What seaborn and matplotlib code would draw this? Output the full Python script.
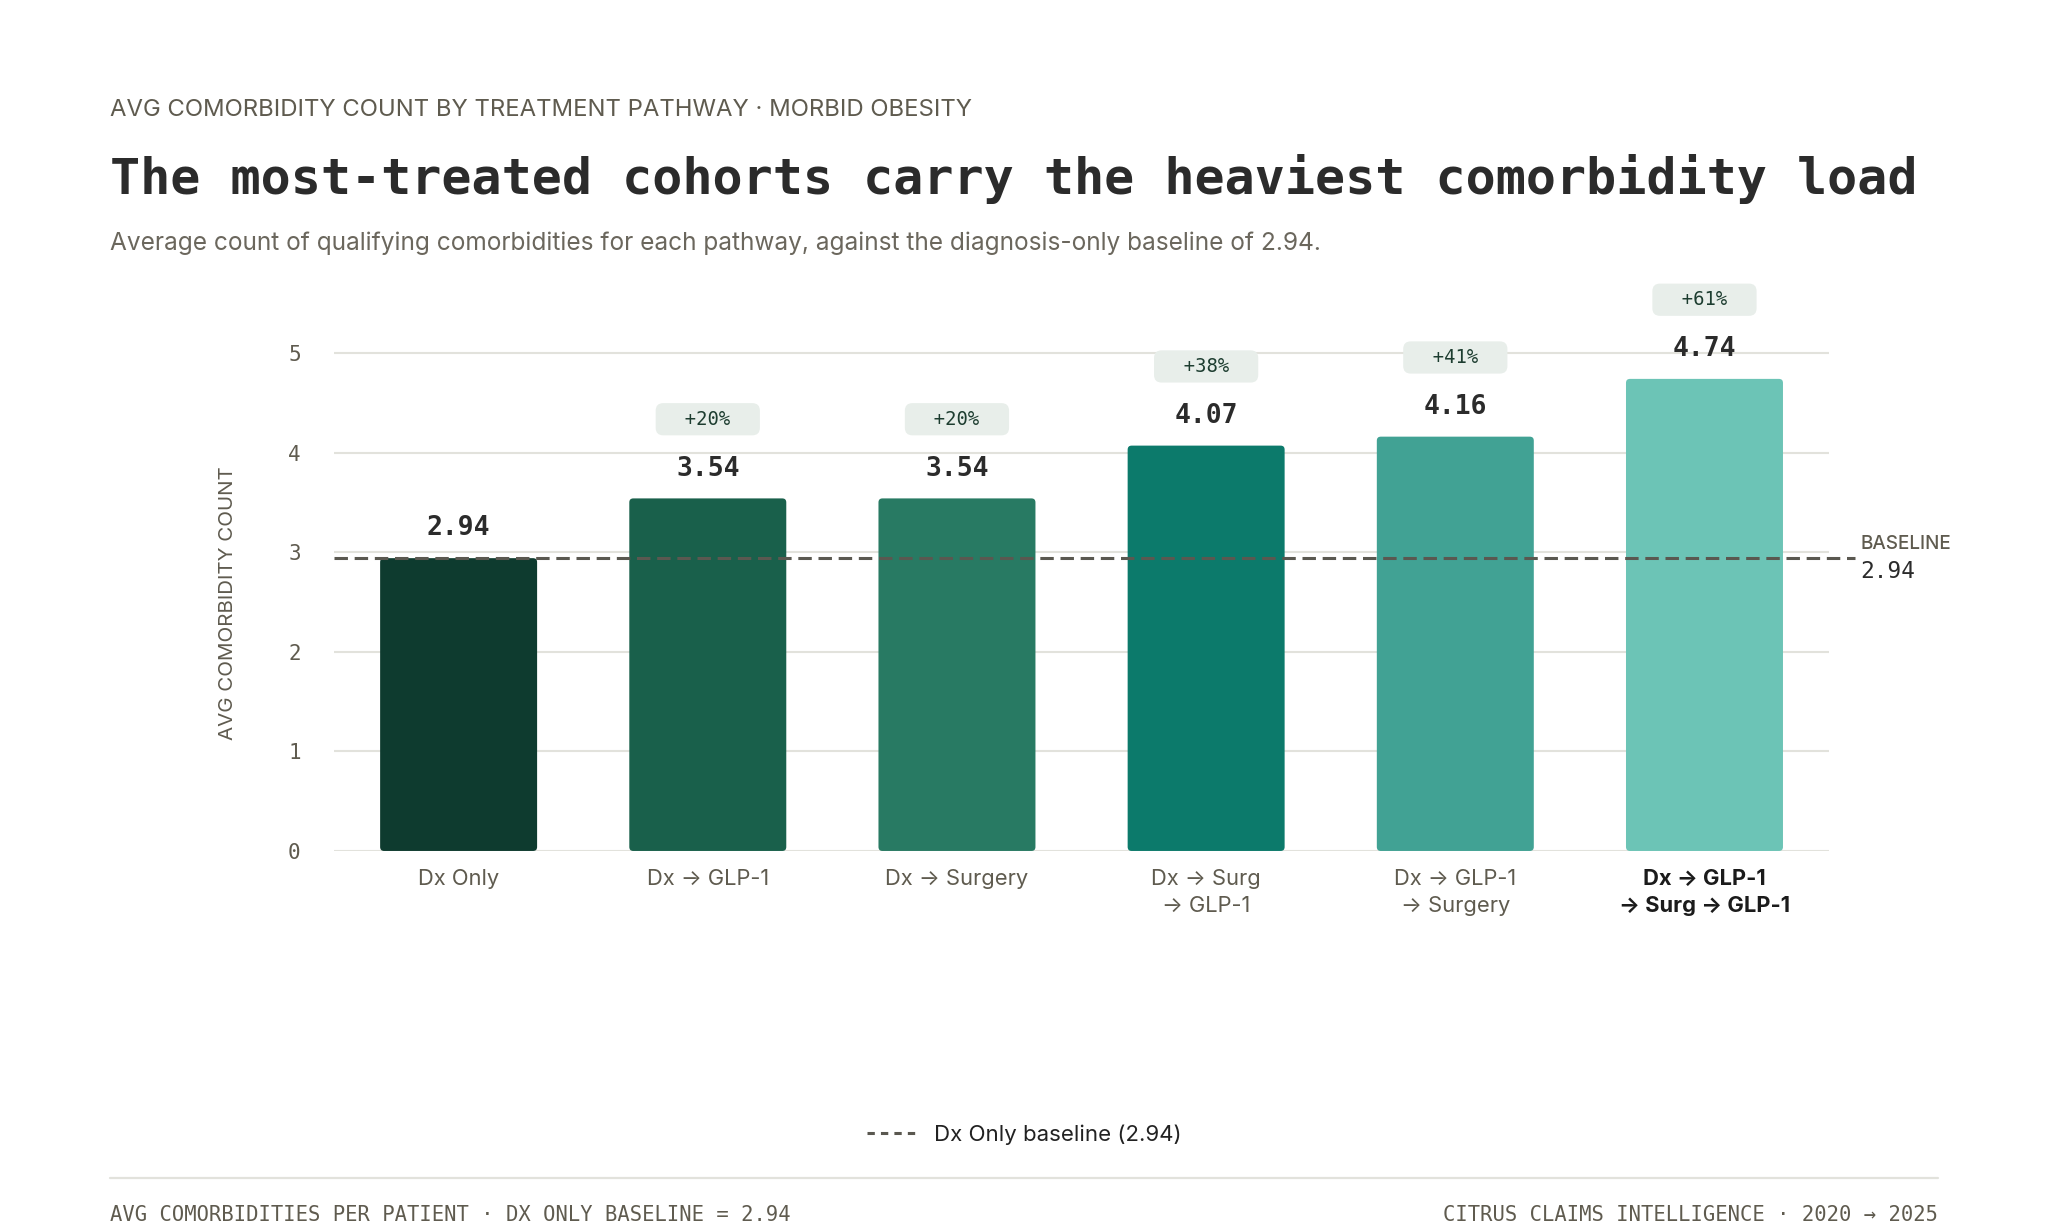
import numpy as np
import matplotlib
matplotlib.use("Agg")
import matplotlib.pyplot as plt
from matplotlib.lines import Line2D
from matplotlib.patches import FancyBboxPatch
import seaborn as sns

# =========================
# data
categories = ["Dx Only", "Dx → GLP-1", "Dx → Surgery", "Dx → Surg\n→ GLP-1",
              "Dx → GLP-1\n→ Surgery", "Dx → GLP-1\n→ Surg → GLP-1"]
avg_comorbidities = [2.94, 3.54, 3.54, 4.07, 4.16, 4.74]
baseline = 2.94
bar_colors = ["#0e3b2f", "#19604b", "#287a63", "#0c7a6b", "#41a294", "#6cc4b6"]
y_ticks = [0, 1, 2, 3, 4, 5]

# =========================
# style
sns.set_style("white")
MONO = ["DejaVu Sans Mono"]
SANS = ["Inter", "DejaVu Sans"]
plt.rcParams["font.family"] = SANS

INK = "#2b2b2b"
MUTED = "#5f5b4f"
GRID = "#e2e2dc"
DASH = "#5a5850"

fig = plt.figure(figsize=(10.24, 6.145), dpi=200)
ax = fig.add_axes([0.1631, 0.3076, 0.73, 0.4538])

sns.barplot(x=categories, y=avg_comorbidities, hue=categories, palette=bar_colors,
            legend=False, width=0.63, saturation=1, ax=ax, zorder=2)

# slightly rounded bar corners
for p in list(ax.patches):
    rounded = FancyBboxPatch((p.get_x(), p.get_y()), p.get_width(), p.get_height(),
                             boxstyle="round,pad=0,rounding_size=0.016",
                             mutation_aspect=2.5, fc=p.get_facecolor(), ec="none",
                             zorder=2)
    p.remove()
    ax.add_patch(rounded)

ax.set_xlim(-0.5, 5.5)
ax.set_ylim(0, 5.6)
ax.set_yticks(y_ticks)
ax.set_yticklabels([str(t) for t in y_ticks], family=MONO, fontsize=7.5, color=MUTED)
ax.yaxis.grid(True, color=GRID, lw=0.75, zorder=0)
ax.set_axisbelow(True)
sns.despine(ax=ax, left=True, bottom=True)
ax.tick_params(axis="x", length=0, pad=6.5)
ax.tick_params(axis="y", length=0, pad=12)

for lbl in ax.get_xticklabels():
    lbl.set_fontsize(7.9)
    lbl.set_color(MUTED)
    lbl.set_linespacing(1.42)
last = ax.get_xticklabels()[-1]
last.set_color("#1b1b1b")
last.set_fontweight("bold")

ax.set_xlabel("")
ax.set_ylabel("AVG COMORBIDITY COUNT", fontsize=7.4, color=MUTED)
ax.yaxis.set_label_coords(-0.065, 0.4446)

# baseline
ax.axhline(baseline, xmin=0, xmax=1.0175, color=DASH, lw=1.1, dashes=(4.4, 2.2),
           clip_on=False, zorder=4)
ax.annotate("BASELINE", xy=(1.021, baseline), xycoords=ax.get_yaxis_transform(),
            xytext=(0, 2), textcoords="offset points", ha="left", va="bottom",
            fontsize=6.8, fontweight="medium", color=MUTED)
ax.annotate(f"{baseline:.2f}", xy=(1.021, baseline), xycoords=ax.get_yaxis_transform(),
            xytext=(0, -0.5), textcoords="offset points", ha="left", va="top",
            fontsize=8.2, color=INK, family=MONO)

# value + percent labels
for i, v in enumerate(avg_comorbidities):
    ax.annotate(f"{v:.2f}", xy=(i, v), xytext=(0, 6), textcoords="offset points",
                ha="center", va="bottom", fontsize=9.5, fontweight="bold",
                color=INK, family=MONO)
    if i > 0:
        pct = (v / baseline - 1) * 100
        ax.annotate(f"  +{pct:.0f}%  ", xy=(i, v), xytext=(0, 28.5),
                    textcoords="offset points", ha="center", va="center",
                    fontsize=6.8, color="#1d3d30", family=MONO,
                    bbox=dict(boxstyle="round,pad=0.35,rounding_size=0.4",
                              fc="#e8eeea", ec="none"))

# header
fig.text(0.0537, 0.9105, "AVG COMORBIDITY COUNT BY TREATMENT PATHWAY · MORBID OBESITY",
         fontsize=8.6, color=MUTED, va="center", ha="left")
fig.text(0.0537, 0.8544, "The most-treated cohorts carry the heaviest comorbidity load",
         fontsize=18, fontweight="bold", color=INK, va="center", ha="left", family=MONO)
fig.text(0.0537, 0.8023,
         "Average count of qualifying comorbidities for each pathway, against the "
         "diagnosis-only baseline of 2.94.",
         fontsize=8.8, color="#6b675d", va="center", ha="left")

# legend
handle = Line2D([], [], color=DASH, lw=1.1, dashes=(2.4, 2.0))
fig.legend(handles=[handle], labels=["Dx Only baseline (2.94)"], loc="center",
           bbox_to_anchor=(0.5, 0.0765), frameon=False, fontsize=8.0,
           handlelength=2.2, handletextpad=0.8, labelcolor="#222222")

# footer
fig.add_artist(Line2D([0.0537, 0.9463], [0.0415, 0.0415], color=GRID, lw=0.8,
                      transform=fig.transFigure))
fig.text(0.0537, 0.0114, "AVG COMORBIDITIES PER PATIENT · DX ONLY BASELINE = 2.94",
         fontsize=7.4, color=MUTED, va="center", ha="left", family=MONO)
fig.text(0.9463, 0.0114, "CITRUS CLAIMS INTELLIGENCE · 2020 → 2025",
         fontsize=7.4, color=MUTED, va="center", ha="right", family=MONO)

fig.savefig("out.png", dpi=200, facecolor="white")
